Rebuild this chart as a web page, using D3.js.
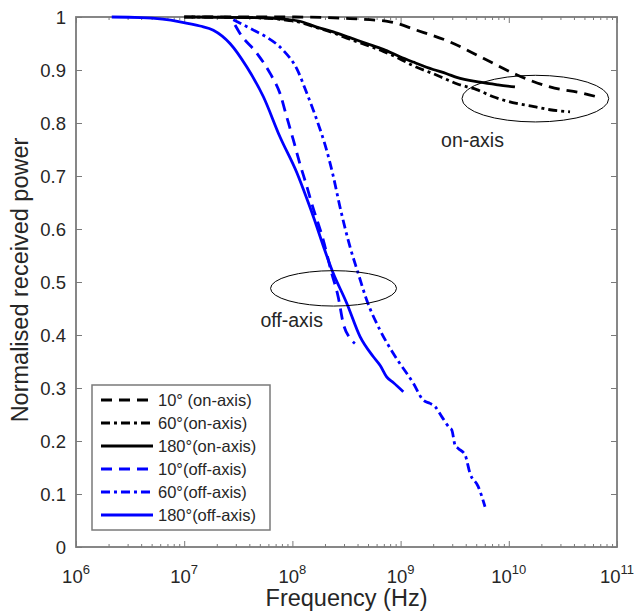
<!DOCTYPE html>
<html>
<head>
<meta charset="utf-8">
<script src="https://cdn.jsdelivr.net/npm/d3@7"></script>
<style>
  html, body { margin: 0; padding: 0; background: #fff; }
  svg { display: block; font-family: "Liberation Sans", Arial, Helvetica, sans-serif; }
</style>
</head>
<body>
<svg id="chart" width="637" height="611"></svg>
<script>
// ---------- data (frequency in Hz, normalised received power) ----------
const on10F  = [1e7, 1e8, 3.40e8, 7.98e8, 1.41e9, 2.86e9, 5.81e9, 1.18e10, 2.40e10, 4.89e10, 7.21e10];
const on10V  = [1.0, 1.0, 0.997, 0.991, 0.975, 0.953, 0.922, 0.891, 0.868, 0.856, 0.847];

const on60F  = [1e7, 3.98e7, 8.24e7, 1.17e8, 1.68e8, 2.39e8, 3.40e8, 4.86e8, 6.92e8, 9.86e8, 1.31e9, 2.00e9, 2.67e9, 3.30e9, 5.05e9, 7.08e9, 1.18e10, 1.71e10, 2.40e10, 3.68e10];
const on60V  = [1.0, 0.999, 0.995, 0.990, 0.980, 0.970, 0.958, 0.947, 0.935, 0.921, 0.908, 0.893, 0.882, 0.874, 0.863, 0.850, 0.837, 0.831, 0.825, 0.821];

const on180F = [1.17e7, 3.98e7, 8.24e7, 1.17e8, 1.68e8, 2.39e8, 3.40e8, 4.86e8, 6.92e8, 9.86e8, 1.31e9, 2.00e9, 2.67e9, 3.30e9, 5.42e9, 7.94e9, 1.14e10];
const on180V = [1.0, 0.999, 0.996, 0.992, 0.981, 0.972, 0.961, 0.950, 0.939, 0.925, 0.915, 0.901, 0.893, 0.886, 0.877, 0.872, 0.868];

const off10F = [2.95e7, 3.28e7, 4.68e7, 6.21e7, 7.67e7, 8.85e7, 1.02e8, 1.17e8, 1.36e8, 1.51e8, 1.93e8, 2.31e8, 2.65e8, 2.95e8, 3.40e8, 3.78e8];
const off10V = [0.985, 0.969, 0.932, 0.894, 0.856, 0.812, 0.768, 0.724, 0.680, 0.648, 0.579, 0.516, 0.472, 0.422, 0.394, 0.384];

const off60F = [2.84e7, 4.68e7, 5.78e7, 8.24e7, 1.10e8, 1.36e8, 1.68e8, 2.07e8, 2.39e8, 2.75e8, 3.40e8, 4.06e8, 4.86e8, 6.46e8, 8.57e8, 1.31e9, 1.62e9, 1.87e9, 2.08e9, 2.40e9, 2.86e9, 2.97e9, 3.19e9, 3.41e9, 3.94e9, 4.38e9, 5.22e9, 6.03e9];
const off60V = [0.995, 0.972, 0.962, 0.937, 0.902, 0.856, 0.806, 0.749, 0.699, 0.642, 0.567, 0.516, 0.466, 0.409, 0.365, 0.309, 0.277, 0.271, 0.265, 0.246, 0.224, 0.221, 0.192, 0.186, 0.174, 0.139, 0.114, 0.076];

const off180F = [2.14e6, 3.98e6, 6.31e6, 9.14e6, 1.40e7, 1.86e7, 2.65e7, 3.78e7, 5.38e7, 7.67e7, 1.10e8, 1.46e8, 2.39e8, 3.18e8, 4.22e8, 5.60e8, 6.50e8, 7.43e8, 8.60e8, 1.06e9];
const off180V = [1.0, 0.999, 0.996, 0.991, 0.983, 0.975, 0.950, 0.906, 0.850, 0.774, 0.706, 0.640, 0.516, 0.460, 0.397, 0.359, 0.342, 0.321, 0.310, 0.293];

const legendLabels = ["10\u00b0 (on-axis)", "60\u00b0(on-axis)", "180\u00b0(on-axis)", "10\u00b0(off-axis)", "60\u00b0(off-axis)", "180\u00b0(off-axis)"];
const xTickValues = [1e6, 1e7, 1e8, 1e9, 1e10, 1e11];
const xTickExponents = ["6", "7", "8", "9", "10", "11"];
const yTickValues = [0, 0.1, 0.2, 0.3, 0.4, 0.5, 0.6, 0.7, 0.8, 0.9, 1];
const yTickLabels = ["0", "0.1", "0.2", "0.3", "0.4", "0.5", "0.6", "0.7", "0.8", "0.9", "1"];

// annotations: ellipse centre (Hz, power), half-width in decades, half-height in power
const annotCentreF = [2.4e8, 1.76e10];
const annotCentreV = [0.488, 0.846];
const annotHalfDecades = [0.582, 0.678];
const annotHalfPower = [0.0334, 0.044];
const annotTexts = ["off-axis", "on-axis"];
const annotTextF = [9.85e7, 4.62e9];
const annotTextV = [0.415, 0.755];

// ---------- layout ----------
const L = 76, R = 617, T = 17, B = 547;
const svg = d3.select("#chart");
const x = d3.scaleLog().domain([1e6, 1e11]).range([L, R]);
const y = d3.scaleLinear().domain([0, 1]).range([B, T]);

const axisColor = "#7a7a7a";
const textColor = "#262626";

// minor ticks
const minorTicks = [];
for (let e = 6; e < 11; e++) for (let m = 2; m <= 9; m++) minorTicks.push(m * Math.pow(10, e));

function styleAxis(g) {
  g.select(".domain").remove();
  g.selectAll("line").attr("stroke", axisColor).attr("stroke-width", 1);
  g.selectAll("text").remove();
}

// bottom
svg.append("g").attr("transform", `translate(0,${B})`)
  .call(d3.axisBottom(x).tickValues(xTickValues).tickSize(-6).tickSizeOuter(0)).call(styleAxis);
svg.append("g").attr("transform", `translate(0,${B})`)
  .call(d3.axisBottom(x).tickValues(minorTicks).tickSize(-3).tickSizeOuter(0)).call(styleAxis);
// top
svg.append("g").attr("transform", `translate(0,${T})`)
  .call(d3.axisTop(x).tickValues(xTickValues).tickSize(-6).tickSizeOuter(0)).call(styleAxis);
svg.append("g").attr("transform", `translate(0,${T})`)
  .call(d3.axisTop(x).tickValues(minorTicks).tickSize(-3).tickSizeOuter(0)).call(styleAxis);
// left/right
svg.append("g").attr("transform", `translate(${L},0)`)
  .call(d3.axisLeft(y).tickValues(yTickValues).tickSize(-6).tickSizeOuter(0)).call(styleAxis);
svg.append("g").attr("transform", `translate(${R},0)`)
  .call(d3.axisRight(y).tickValues(yTickValues).tickSize(-6).tickSizeOuter(0)).call(styleAxis);

// frame
svg.append("rect").attr("x", L).attr("y", T).attr("width", R - L).attr("height", B - T)
  .attr("fill", "none").attr("stroke", axisColor).attr("stroke-width", 1.8);

// y tick labels
svg.append("g").selectAll("text").data(yTickValues).join("text")
  .attr("x", L - 10).attr("y", d => y(d)).attr("dy", "0.36em")
  .attr("text-anchor", "end").attr("font-size", 18.5).attr("fill", textColor)
  .text((d, i) => yTickLabels[i]);

// x tick labels with superscripts
const xl = svg.append("g").selectAll("text").data(xTickValues).join("text")
  .attr("x", d => x(d)).attr("y", 583)
  .attr("text-anchor", "middle").attr("font-size", 18.5).attr("fill", textColor);
xl.append("tspan").text("10");
xl.append("tspan").attr("font-size", 13).attr("dy", -9).text((d, i) => xTickExponents[i]);

// axis titles
svg.append("text").attr("x", (L + R) / 2).attr("y", 606).attr("text-anchor", "middle")
  .attr("font-size", 23.5).attr("fill", textColor).text("Frequency (Hz)");
svg.append("text").attr("transform", `translate(28,280) rotate(-90)`).attr("text-anchor", "middle")
  .attr("font-size", 23.5).attr("fill", textColor).text("Normalised received power");

// ---------- series ----------
const dashPat = "11,7";
const dashDotPat = "9,4,3,4";
const series = [
  { f: on10F, v: on10V, color: "#000000", dash: dashPat },
  { f: on60F, v: on60V, color: "#000000", dash: dashDotPat },
  { f: on180F, v: on180V, color: "#000000", dash: null },
  { f: off10F, v: off10V, color: "#0000ff", dash: dashPat },
  { f: off60F, v: off60V, color: "#0000ff", dash: dashDotPat },
  { f: off180F, v: off180V, color: "#0000ff", dash: null }
];

const line = d3.line().x(d => x(d[0])).y(d => y(d[1])).curve(d3.curveMonotoneX);
const plot = svg.append("g");
series.forEach(s => {
  const pts = s.f.map((f, i) => [f, s.v[i]]);
  plot.append("path").attr("d", line(pts))
    .attr("fill", "none").attr("stroke", s.color).attr("stroke-width", 2.8)
    .attr("stroke-dasharray", s.dash).attr("stroke-linejoin", "round");
});

// ---------- annotations ----------
annotCentreF.forEach((cf, i) => {
  const cx = x(cf), cy = y(annotCentreV[i]);
  const rx = x(cf * Math.pow(10, annotHalfDecades[i])) - cx;
  const ry = cy - y(annotCentreV[i] + annotHalfPower[i]);
  svg.append("ellipse").attr("cx", cx).attr("cy", cy).attr("rx", rx).attr("ry", ry)
    .attr("fill", "none").attr("stroke", "#000").attr("stroke-width", 1);
  svg.append("text").attr("x", x(annotTextF[i])).attr("y", y(annotTextV[i]))
    .attr("text-anchor", "middle").attr("font-size", 19.5).attr("fill", textColor)
    .text(annotTexts[i]);
});

// ---------- legend ----------
const lg = svg.append("g");
lg.append("rect").attr("x", 92).attr("y", 385).attr("width", 178).attr("height", 145)
  .attr("fill", "#fff").attr("stroke", axisColor).attr("stroke-width", 1.5);
series.forEach((s, i) => {
  const ry = 400 + i * 23;
  lg.append("line").attr("x1", 101).attr("x2", 153).attr("y1", ry).attr("y2", ry)
    .attr("stroke", s.color).attr("stroke-width", 2.8).attr("stroke-dasharray", s.dash);
  lg.append("text").attr("x", 158).attr("y", ry).attr("dy", "0.36em")
    .attr("font-size", 16.5).attr("fill", textColor).text(legendLabels[i]);
});
</script>
</body>
</html>
